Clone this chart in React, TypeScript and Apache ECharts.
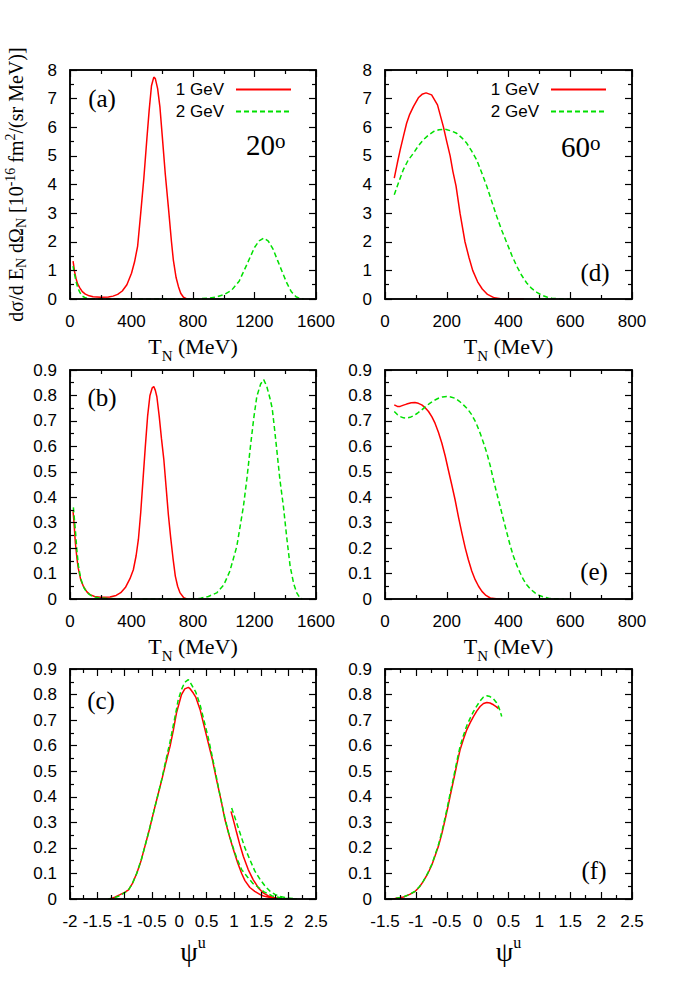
import React, { useEffect, useRef } from 'react';
import * as echarts from 'echarts';

// ---------- data (T_N in MeV or psi, value) ----------
const aRed: [number, number][] = [
  [20, 1.32], [30, 0.95], [40, 0.7], [50, 0.52], [65, 0.38], [80, 0.26], [100, 0.17], [125, 0.11],
  [150, 0.08], [200, 0.06], [250, 0.07], [280, 0.1], [310, 0.16], [340, 0.28], [370, 0.5], [400, 0.9],
  [420, 1.3], [440, 1.85], [460, 3.0], [480, 4.2], [500, 5.6], [515, 6.6], [530, 7.45], [545, 7.75],
  [555, 7.7], [570, 7.35], [585, 6.7], [600, 5.7], [620, 4.35], [640, 3.2], [660, 2.0], [672, 1.37],
  [690, 0.75], [705, 0.44], [720, 0.2], [738, 0.06], [760, 0.0],
];
const aGreen: [number, number][] = [
  [20, 1.15], [30, 0.85], [40, 0.6], [50, 0.4], [65, 0.22], [80, 0.1], [100, 0.04], [130, 0.01],
  [200, 0.0], [400, 0], [600, 0], [800, 0], [850, 0.01], [900, 0.03], [950, 0.07], [1000, 0.15],
  [1050, 0.3], [1100, 0.62], [1150, 1.2], [1200, 1.8], [1230, 2.03], [1260, 2.13], [1290, 2.02],
  [1320, 1.75], [1350, 1.35], [1380, 0.95], [1410, 0.56], [1440, 0.25], [1470, 0.08], [1500, 0.01], [1520, 0],
];
const bRed: [number, number][] = [
  [20, 0.345], [26, 0.3], [35, 0.22], [45, 0.16], [54, 0.12], [70, 0.075], [87, 0.05], [110, 0.028],
  [130, 0.017], [160, 0.01], [200, 0.007], [260, 0.008], [300, 0.014], [330, 0.025], [360, 0.045],
  [390, 0.08], [412, 0.115], [430, 0.17], [445, 0.235], [460, 0.34], [475, 0.47], [490, 0.6],
  [505, 0.72], [520, 0.8], [535, 0.83], [545, 0.835], [555, 0.82], [565, 0.795], [580, 0.72],
  [595, 0.63], [610, 0.55], [625, 0.44], [640, 0.33], [655, 0.24], [670, 0.16], [685, 0.09],
  [700, 0.05], [716, 0.024], [740, 0.005], [760, 0],
];
const bGreen: [number, number][] = [
  [22, 0.36], [35, 0.27], [45, 0.19], [55, 0.13], [70, 0.08], [90, 0.045], [110, 0.025], [140, 0.012],
  [180, 0.005], [250, 0.002], [400, 0], [600, 0], [800, 0], [850, 0.003], [900, 0.01], [954, 0.024],
  [1000, 0.055], [1040, 0.11], [1085, 0.207], [1128, 0.364], [1150, 0.47], [1171, 0.586], [1195, 0.71],
  [1215, 0.796], [1240, 0.845], [1260, 0.862], [1280, 0.835], [1300, 0.79], [1315, 0.75], [1330, 0.67],
  [1345, 0.586], [1365, 0.47], [1388, 0.364], [1410, 0.24], [1432, 0.128], [1455, 0.06], [1475, 0.024],
  [1495, 0.005], [1510, 0],
];
const cRed: [number, number][] = [
  [0.945, 0.343], [1.0, 0.3], [1.05, 0.258], [1.11, 0.21], [1.17, 0.167], [1.26, 0.115], [1.35, 0.076],
  [1.45, 0.042], [1.54, 0.023], [1.63, 0.012], [1.72, 0.006], [1.8, 0.003], [1.66, 0.006], [1.54, 0.012],
  [1.48, 0.017], [1.38, 0.03], [1.29, 0.045], [1.2, 0.072], [1.14, 0.1], [1.07, 0.14], [0.99, 0.193],
  [0.91, 0.25], [0.835, 0.31], [0.76, 0.39], [0.68, 0.467], [0.6, 0.55], [0.53, 0.61], [0.45, 0.68],
  [0.38, 0.741], [0.3, 0.79], [0.255, 0.806], [0.2, 0.822], [0.165, 0.828], [0.1, 0.822], [0.04, 0.8],
  [-0.05, 0.73], [-0.11, 0.66], [-0.17, 0.597], [-0.25, 0.53], [-0.32, 0.467], [-0.4, 0.4],
  [-0.475, 0.336], [-0.55, 0.27], [-0.63, 0.206], [-0.7, 0.15], [-0.78, 0.1], [-0.86, 0.06],
  [-0.93, 0.036], [-1.0, 0.026], [-1.085, 0.017], [-1.18, 0.007], [-1.27, 0],
];
const cGreen: [number, number][] = [
  [0.957, 0.356], [1.03, 0.31], [1.11, 0.258], [1.2, 0.2], [1.29, 0.154], [1.38, 0.11], [1.48, 0.076],
  [1.57, 0.05], [1.66, 0.03], [1.75, 0.018], [1.84, 0.01], [1.96, 0.005], [2.08, 0.002], [2.15, 0],
  [1.9, 0.003], [1.7, 0.012], [1.55, 0.028], [1.45, 0.045], [1.35, 0.06], [1.25, 0.085], [1.14, 0.115],
  [1.05, 0.16], [0.97, 0.21], [0.9, 0.26], [0.83, 0.32], [0.75, 0.4], [0.68, 0.475], [0.6, 0.56],
  [0.53, 0.63], [0.45, 0.7], [0.38, 0.76], [0.3, 0.81], [0.22, 0.84], [0.165, 0.858], [0.1, 0.848],
  [0.04, 0.82], [-0.02, 0.78], [-0.05, 0.745], [-0.11, 0.68], [-0.17, 0.615], [-0.25, 0.54],
  [-0.32, 0.47], [-0.4, 0.4], [-0.475, 0.336], [-0.55, 0.27], [-0.63, 0.206], [-0.7, 0.15],
  [-0.78, 0.1], [-0.86, 0.06], [-0.93, 0.036], [-1.0, 0.025], [-1.1, 0.012], [-1.2, 0.004], [-1.3, 0],
];
const dRed: [number, number][] = [
  [30, 4.22], [40, 4.75], [49, 5.2], [60, 5.7], [70, 6.14], [80, 6.45], [92, 6.72], [108, 7.03],
  [120, 7.15], [133, 7.2], [151, 7.13], [170, 6.78], [189, 6.02], [200, 5.5], [211, 5.0], [220, 4.45],
  [230, 3.95], [243, 3.0], [259, 2.0], [272, 1.45], [284, 1.0], [300, 0.6], [315, 0.35], [332, 0.16],
  [354, 0.04], [380, 0.0], [450, 0],
];
const dGreen: [number, number][] = [
  [30, 3.64], [45, 4.1], [59, 4.51], [75, 4.85], [92, 5.09], [108, 5.35], [124, 5.56], [140, 5.72],
  [157, 5.85], [175, 5.91], [195, 5.93], [215, 5.87], [232, 5.79], [250, 5.62], [265, 5.44], [280, 5.18],
  [297, 4.86], [313, 4.42], [330, 3.93], [346, 3.4], [362, 2.88], [378, 2.4], [395, 1.95], [411, 1.52],
  [427, 1.14], [443, 0.82], [459, 0.56], [475, 0.37], [492, 0.23], [508, 0.13], [524, 0.07], [540, 0.03],
  [557, 0.01], [580, 0.0], [600, 0],
];
const eRed: [number, number][] = [
  [30, 0.763], [40, 0.757], [49, 0.757], [60, 0.762], [70, 0.766], [85, 0.771], [97, 0.772], [108, 0.769],
  [119, 0.763], [130, 0.752], [141, 0.737], [152, 0.716], [162, 0.691], [173, 0.655], [184, 0.613],
  [195, 0.562], [205, 0.508], [216, 0.45], [227, 0.39], [238, 0.322], [249, 0.259], [260, 0.2],
  [270, 0.154], [281, 0.11], [292, 0.076], [303, 0.05], [314, 0.03], [327, 0.014], [341, 0.004],
  [360, 0.001], [380, 0],
];
const eGreen: [number, number][] = [
  [30, 0.737], [40, 0.725], [49, 0.717], [60, 0.712], [70, 0.711], [81, 0.714], [92, 0.72], [105, 0.73],
  [119, 0.743], [132, 0.757], [146, 0.77], [160, 0.781], [173, 0.789], [186, 0.794], [200, 0.796],
  [213, 0.794], [227, 0.789], [240, 0.778], [254, 0.763], [268, 0.746], [281, 0.724], [295, 0.692],
  [308, 0.652], [319, 0.614], [330, 0.573], [341, 0.523], [351, 0.469], [362, 0.416], [373, 0.364],
  [384, 0.31], [395, 0.259], [405, 0.212], [416, 0.168], [427, 0.132], [438, 0.102], [448, 0.077],
  [459, 0.056], [472, 0.038], [486, 0.024], [500, 0.014], [514, 0.008], [530, 0.003], [546, 0.001], [580, 0],
];
const fRed: [number, number][] = [
  [-1.45, 0], [-1.34, 0.002], [-1.2, 0.008], [-1.1, 0.018], [-1.01, 0.03], [-0.94, 0.048], [-0.88, 0.069],
  [-0.81, 0.098], [-0.74, 0.134], [-0.69, 0.168], [-0.635, 0.206], [-0.58, 0.255], [-0.527, 0.31],
  [-0.486, 0.355], [-0.446, 0.402], [-0.405, 0.448], [-0.365, 0.493], [-0.325, 0.54], [-0.284, 0.584],
  [-0.23, 0.625], [-0.176, 0.662], [-0.12, 0.69], [-0.068, 0.714], [-0.015, 0.735], [0.04, 0.753],
  [0.095, 0.765], [0.149, 0.769], [0.2, 0.767], [0.257, 0.76], [0.3, 0.753], [0.338, 0.745],
];
const fGreen: [number, number][] = [
  [-1.45, 0], [-1.34, 0.002], [-1.2, 0.008], [-1.1, 0.018], [-1.01, 0.031], [-0.94, 0.049], [-0.88, 0.07],
  [-0.81, 0.1], [-0.74, 0.137], [-0.69, 0.172], [-0.635, 0.212], [-0.58, 0.262], [-0.527, 0.318],
  [-0.486, 0.364], [-0.446, 0.412], [-0.405, 0.458], [-0.365, 0.505], [-0.325, 0.552], [-0.284, 0.597],
  [-0.23, 0.64], [-0.176, 0.678], [-0.12, 0.708], [-0.068, 0.733], [-0.015, 0.755], [0.04, 0.775],
  [0.095, 0.79], [0.149, 0.795], [0.2, 0.792], [0.257, 0.783], [0.3, 0.77], [0.338, 0.753],
  [0.365, 0.735], [0.39, 0.714],
];

const seriesNames = ['1 GeV', '2 GeV'];
const panelTags = ['(a)', '(b)', '(c)', '(d)', '(e)', '(f)'];
const angleLabels = ['20', '60'];

// ---------- styling ----------
const SANS = '"Liberation Sans", Arial, Helvetica, sans-serif';
const SERIF = '"Liberation Serif", "Times New Roman", Times, serif';
const RED = '#ff0000';
const GREEN = '#00e000';

type Panel = {
  left: number; top: number; width: number; height: number;
  xMin: number; xMax: number; xInt: number;
  yMax: number; yInt: number;
  xName: 'T' | 'psi';
  red: [number, number][]; green: [number, number][];
  tag: string; tagX: number; tagY: number;
  yTitle?: boolean;
  angle?: { text: string; x: number; y: number };
  legendRight?: number;
};

const panels: Panel[] = [
  { left: 70, top: 70, width: 246, height: 229, xMin: 0, xMax: 1600, xInt: 400, yMax: 8, yInt: 1, xName: 'T', red: aRed, green: aGreen, tag: panelTags[0], tagX: 102, tagY: 98, yTitle: true, angle: { text: angleLabels[0], x: 246, y: 145 }, legendRight: 700 - 292 },
  { left: 70, top: 370, width: 246, height: 229, xMin: 0, xMax: 1600, xInt: 400, yMax: 0.9, yInt: 0.1, xName: 'T', red: bRed, green: bGreen, tag: panelTags[1], tagX: 102, tagY: 397 },
  { left: 70, top: 669, width: 246, height: 230, xMin: -2, xMax: 2.5, xInt: 0.5, yMax: 0.9, yInt: 0.1, xName: 'psi', red: cRed, green: cGreen, tag: panelTags[2], tagX: 101, tagY: 700 },
  { left: 385, top: 70, width: 247, height: 229, xMin: 0, xMax: 800, xInt: 200, yMax: 8, yInt: 1, xName: 'T', red: dRed, green: dGreen, tag: panelTags[3], tagX: 595, tagY: 272, angle: { text: angleLabels[1], x: 561, y: 147 }, legendRight: 700 - 607 },
  { left: 385, top: 370, width: 247, height: 229, xMin: 0, xMax: 800, xInt: 200, yMax: 0.9, yInt: 0.1, xName: 'T', red: eRed, green: eGreen, tag: panelTags[4], tagX: 594, tagY: 571 },
  { left: 385, top: 669, width: 247, height: 230, xMin: -1.5, xMax: 2.5, xInt: 0.5, yMax: 0.9, yInt: 0.1, xName: 'psi', red: fRed, green: fGreen, tag: panelTags[5], tagX: 594, tagY: 870 },
];

const nameRichT = () => ({
  b: { fontFamily: SERIF, fontSize: 22, lineHeight: 34, verticalAlign: 'middle', color: '#000' },
  s: { fontFamily: SERIF, fontSize: 15, lineHeight: 14, verticalAlign: 'bottom', color: '#000' },
  p: { fontFamily: SERIF, fontSize: 16, lineHeight: 15, verticalAlign: 'top', color: '#000' },
  g: { fontFamily: SERIF, fontSize: 28, lineHeight: 34, verticalAlign: 'middle', color: '#000' },
});
const yTitleRich = () => ({
  b: { fontFamily: SERIF, fontSize: 20, lineHeight: 25, verticalAlign: 'middle', color: '#000' },
  s: { fontFamily: SERIF, fontSize: 14, lineHeight: 12, verticalAlign: 'bottom', color: '#000' },
  p: { fontFamily: SERIF, fontSize: 14, lineHeight: 12, verticalAlign: 'top', color: '#000' },
});
const angleRich = () => ({
  b: { fontFamily: SERIF, fontSize: 29, lineHeight: 30, verticalAlign: 'middle', color: '#000' },
  p: { fontFamily: SERIF, fontSize: 21, lineHeight: 6, verticalAlign: 'top', color: '#000' },
});

const fmt = (v: number) => String(Number(v.toFixed(3)));
const axisLine = () => ({ show: true, onZero: false, lineStyle: { color: '#000', width: 1.5 } });
const axisTick = () => ({ show: true, inside: true, length: 7, lineStyle: { color: '#000', width: 1.2 } });
const minorTick = () => ({ show: true, splitNumber: 2, length: 4, lineStyle: { color: '#000', width: 1.2 } });
const label = (margin: number) => ({ show: true, color: '#000', fontFamily: SANS, fontSize: 17, margin, formatter: fmt });

function buildPanelOption(p: Panel) {
  const xName = p.xName === 'T' ? '{b|T}{s|N}{b| (MeV)}' : '{g|ψ}{p|u}';
  const yLeft: any = {
    type: 'value', position: 'left', min: 0, max: p.yMax, interval: p.yInt, z: 10,
    axisLine: axisLine(), axisTick: axisTick(), minorTick: minorTick(), splitLine: { show: false },
    axisLabel: label(13),
  };
  if (p.yTitle) {
    yLeft.name = '{b|dσ/d E}{s|N}{b| dΩ}{s|N}{b| [10}{p|-16}{b| fm}{p|2}{b|/(sr MeV)]}';
    yLeft.nameLocation = 'middle';
    yLeft.nameRotate = 90;
    yLeft.nameGap = 42;
    yLeft.nameTextStyle = { rich: yTitleRich() };
  }
  const graphic: any[] = [
    {
      type: 'text', x: p.tagX, y: p.tagY,
      style: { text: p.tag, fontFamily: SERIF, fontSize: 25, fill: '#000', align: 'center', verticalAlign: 'middle' },
    },
  ];
  if (p.angle) {
    graphic.push({
      type: 'text', x: p.angle.x, y: p.angle.y,
      style: { text: `{b|${p.angle.text}}{p|o}`, rich: angleRich(), align: 'left', verticalAlign: 'middle' },
    });
  }
  const option: any = {
    animation: false,
    grid: [{
      left: p.left, top: p.top, width: p.width, height: p.height,
      show: true, borderColor: '#000', borderWidth: 1.5, backgroundColor: 'transparent', z: 9,
    }],
    xAxis: [
      {
        type: 'value', position: 'bottom', min: p.xMin, max: p.xMax, interval: p.xInt, z: 10,
        axisLine: axisLine(), axisTick: axisTick(), minorTick: minorTick(), splitLine: { show: false },
        axisLabel: label(14),
        name: xName, nameLocation: 'middle', nameGap: p.xName === 'T' ? 30 : 35,
        nameTextStyle: { rich: nameRichT() },
      },
      {
        type: 'value', position: 'top', min: p.xMin, max: p.xMax, interval: p.xInt, z: 10,
        axisLine: axisLine(), axisTick: axisTick(), minorTick: minorTick(), splitLine: { show: false },
        axisLabel: { show: false },
      },
    ],
    yAxis: [
      yLeft,
      {
        type: 'value', position: 'right', min: 0, max: p.yMax, interval: p.yInt, z: 10,
        axisLine: axisLine(), axisTick: axisTick(), minorTick: minorTick(), splitLine: { show: false },
        axisLabel: { show: false },
      },
    ],
    series: [
      {
        type: 'line', name: seriesNames[0], xAxisIndex: 0, yAxisIndex: 0, data: p.red,
        symbol: 'none', color: RED, lineStyle: { color: RED, width: 1.5, type: 'solid' },
      },
      {
        type: 'line', name: seriesNames[1], xAxisIndex: 0, yAxisIndex: 0, data: p.green,
        symbol: 'none', color: GREEN, lineStyle: { color: GREEN, width: 1.5, type: [5, 3] },
      },
    ],
    graphic,
  };
  if (p.legendRight !== undefined) {
    option.legend = [{
      data: seriesNames, orient: 'vertical', align: 'right', itemWidth: 55, itemHeight: 18, itemGap: 5,
      padding: 0, selectedMode: false, top: 81, right: p.legendRight,
      textStyle: { fontFamily: SANS, fontSize: 17, color: '#000', padding: [0, 7, 0, 0] },
      itemStyle: { opacity: 0 },
    }];
  }
  return option;
}

function PanelChart({ panel }: { panel: Panel }) {
  const ref = useRef<HTMLDivElement>(null);
  useEffect(() => {
    if (!ref.current) return;
    const chart = echarts.init(ref.current, undefined, { renderer: 'svg' });
    chart.setOption(buildPanelOption(panel));
    return () => chart.dispose();
  }, [panel]);
  return <div ref={ref} style={{ position: 'absolute', left: 0, top: 0, width: 700, height: 1000 }} />;
}

export default function App() {
  return (
    <div style={{ position: 'absolute', left: 0, top: 0, width: 700, height: 1000, background: '#fff' }}>
      {panels.map((p, i) => (
        <PanelChart key={i} panel={p} />
      ))}
    </div>
  );
}
